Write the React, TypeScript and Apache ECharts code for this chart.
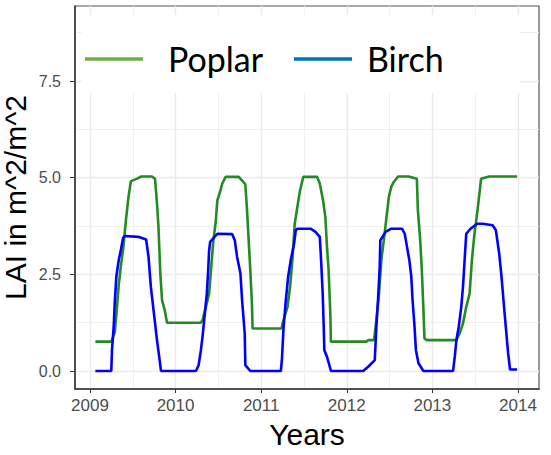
import React, { useEffect, useRef } from "react";
import * as echarts from "echarts";

const yearTicks = [2009, 2010, 2011, 2012, 2013, 2014];
const yearMinor = [2009.5, 2010.5, 2011.5, 2012.5, 2013.5];
const laiTicks = [0, 2.5, 5, 7.5];
const laiMinor = [1.25, 3.75, 6.25, 8.75];
const seriesNames = ["Poplar", "Birch"];

const poplarX = [
  2009.063, 2009.249, 2009.29, 2009.31, 2009.335, 2009.36, 2009.39, 2009.42, 2009.45, 2009.478, 2009.545, 2009.6, 2009.723, 2009.76, 2009.783, 2009.8, 2009.822, 2009.842, 2009.874, 2009.9,
  2010.296, 2010.315, 2010.354, 2010.392, 2010.423, 2010.442, 2010.469, 2010.488, 2010.519, 2010.546, 2010.585, 2010.738, 2010.815, 2010.835, 2010.854, 2010.873, 2010.892, 2010.9,
  2011.238, 2011.25, 2011.308, 2011.338, 2011.365, 2011.392, 2011.423, 2011.454, 2011.492, 2011.654, 2011.685, 2011.723, 2011.75, 2011.769, 2011.788, 2011.808, 2011.815,
  2012.231, 2012.25, 2012.319, 2012.346, 2012.377, 2012.404, 2012.442, 2012.469, 2012.492, 2012.519, 2012.55, 2012.6, 2012.723, 2012.819, 2012.831, 2012.858, 2012.877, 2012.896, 2012.908, 2012.935,
  2013.281, 2013.319, 2013.358, 2013.396, 2013.435, 2013.462, 2013.492, 2013.523, 2013.55, 2013.569, 2013.665, 2013.99,
];
const poplarY = [
  0.76, 0.76, 1.0, 1.5, 2.2, 2.7, 3.2, 3.9, 4.5, 4.91, 4.97, 5.03, 5.03, 4.97, 4.33, 3.73, 2.52, 1.83, 1.57, 1.25,
  1.25, 1.32, 1.66, 2.0, 2.87, 3.38, 3.86, 4.41, 4.63, 4.85, 5.02, 5.02, 4.83, 4.16, 3.38, 2.61, 1.75, 1.1,
  1.1, 1.23, 1.66, 2.18, 2.87, 3.81, 4.24, 4.67, 5.02, 5.02, 4.85, 4.41, 3.98, 3.21, 2.61, 1.49, 0.76,
  0.76, 0.8, 0.8, 1.32, 2.0, 2.87, 3.55, 4.07, 4.5, 4.76, 4.89, 5.03, 5.03, 4.97, 4.16, 3.38, 2.61, 1.57, 0.84, 0.8,
  0.8, 0.97, 1.23, 1.66, 2.0, 2.87, 3.55, 4.07, 4.59, 4.97, 5.03, 5.03,
];

const birchX = [
  2009.063, 2009.249, 2009.257, 2009.277, 2009.289, 2009.308, 2009.336, 2009.36, 2009.387, 2009.407, 2009.565, 2009.656, 2009.684, 2009.711, 2009.743, 2009.783, 2009.814, 2009.83,
  2010.238, 2010.269, 2010.296, 2010.315, 2010.342, 2010.365, 2010.381, 2010.392, 2010.404, 2010.488, 2010.662, 2010.692, 2010.719, 2010.758, 2010.777, 2010.808, 2010.815, 2010.873,
  2011.23, 2011.242, 2011.262, 2011.288, 2011.315, 2011.346, 2011.385, 2011.404, 2011.423, 2011.577, 2011.635, 2011.685, 2011.7, 2011.719, 2011.731, 2011.738, 2011.769, 2011.815,
  2012.192, 2012.25, 2012.327, 2012.346, 2012.365, 2012.385, 2012.392, 2012.454, 2012.519, 2012.646, 2012.677, 2012.704, 2012.731, 2012.754, 2012.769, 2012.792, 2012.808, 2012.838, 2012.896,
  2013.242, 2013.262, 2013.281, 2013.308, 2013.338, 2013.358, 2013.377, 2013.396, 2013.446, 2013.523, 2013.588, 2013.704, 2013.742, 2013.781, 2013.808, 2013.831, 2013.858, 2013.885, 2013.908, 2013.99,
];
const birchY = [
  0, 0, 0.54, 1.14, 1.75, 2.44, 2.87, 3.12, 3.45, 3.49, 3.47, 3.4, 2.95, 2.18, 1.57, 0.8, 0.28, 0,
  0, 0.15, 0.54, 0.89, 1.49, 2.0, 2.61, 3.12, 3.34, 3.55, 3.54, 3.38, 2.95, 2.52, 1.83, 0.97, 0.15, 0,
  0, 0.28, 1.14, 1.83, 2.44, 2.87, 3.3, 3.64, 3.68, 3.68, 3.6, 3.47, 2.87, 2.0, 1.14, 0.54, 0.37, 0,
  0, 0.11, 0.28, 1.14, 1.83, 2.69, 3.38, 3.6, 3.68, 3.68, 3.55, 3.21, 2.87, 2.44, 1.83, 1.14, 0.54, 0.2, 0,
  0, 0.37, 0.8, 1.14, 1.66, 2.18, 2.87, 3.55, 3.68, 3.81, 3.81, 3.77, 3.64, 3.04, 2.44, 1.83, 1.14, 0.46, 0.04, 0.04,
];

const X_MIN = 2008.825;
const X_MAX = 2014.246;
const Y_MIN = -0.465;
const Y_MAX = 9.44;

export default function App() {
  const ref = useRef<HTMLDivElement>(null);
  useEffect(() => {
    if (!ref.current) return;
    const chart = echarts.init(ref.current, null, { renderer: "svg" });
    const axisFont = "Liberation Sans, Arial, sans-serif";
    const grid = "#EBEBEB";
    chart.setOption({
      animation: false,
      backgroundColor: "#ffffff",
      grid: {
        left: 75,
        right: 12,
        top: 6,
        bottom: 66,
        containLabel: false,
        outerBoundsMode: "none",
        show: true,
        borderColor: "#555555",
        borderWidth: 1.2,
        backgroundColor: "transparent",
      },
      xAxis: [
        {
          type: "value",
          min: X_MIN,
          max: X_MAX,
          name: "Years",
          nameLocation: "middle",
          nameGap: 30,
          nameMoveOverlap: false,
          nameTextStyle: { fontSize: 30, color: "#000", fontFamily: axisFont },
          axisLine: { show: true, onZero: false, lineStyle: { color: "#333", width: 1.5 } },
          axisTick: { show: true, length: 4, customValues: yearTicks, lineStyle: { color: "#333" } },
          axisLabel: {
            customValues: yearTicks,
            margin: 8,
            fontSize: 17,
            color: "#4D4D4D",
            fontFamily: axisFont,
            formatter: (v: number) => String(Math.round(v)),
          },
          splitLine: { show: true, lineStyle: { color: grid, width: 1.4 } },
        },
        {
          type: "value",
          min: X_MIN,
          max: X_MAX,
          position: "bottom",
          axisLine: { show: false },
          axisTick: { show: false, customValues: yearMinor },
          axisLabel: { show: false, customValues: yearMinor },
          splitLine: { show: true, lineStyle: { color: "#F0F0F0", width: 1 } },
        },
      ],
      yAxis: [
        {
          type: "value",
          min: Y_MIN,
          max: Y_MAX,
          name: "LAI in m^2/m^2",
          nameLocation: "middle",
          nameGap: 45,
          nameMoveOverlap: false,
          nameTextStyle: { fontSize: 30, color: "#000", fontFamily: axisFont },
          axisLine: { show: true, onZero: false, lineStyle: { color: "#333", width: 1.5 } },
          axisTick: { show: true, length: 5, customValues: laiTicks, lineStyle: { color: "#333" } },
          axisLabel: {
            customValues: laiTicks,
            margin: 14,
            fontSize: 16,
            color: "#4D4D4D",
            fontFamily: axisFont,
            formatter: (v: number) => v.toFixed(1),
          },
          splitLine: { show: true, lineStyle: { color: grid, width: 1.4 } },
        },
        {
          type: "value",
          min: Y_MIN,
          max: Y_MAX,
          position: "left",
          axisLine: { show: false },
          axisTick: { show: false, customValues: laiMinor },
          axisLabel: { show: false, customValues: laiMinor },
          splitLine: { show: true, lineStyle: { color: "#F0F0F0", width: 1 } },
        },
      ],
      series: [
        {
          name: seriesNames[0],
          type: "line",
          xAxisIndex: 0,
          yAxisIndex: 0,
          showSymbol: false,
          symbol: "none",
          lineStyle: { color: "#228B22", width: 2.6 },
          itemStyle: { color: "#228B22" },
          data: poplarX.map((x, i) => [x, poplarY[i]]),
          z: 3,
        },
        {
          name: seriesNames[1],
          type: "line",
          xAxisIndex: 0,
          yAxisIndex: 0,
          showSymbol: false,
          symbol: "none",
          lineStyle: { color: "#0000FF", width: 2.6 },
          itemStyle: { color: "#0000FF" },
          data: birchX.map((x, i) => [x, birchY[i]]),
          z: 4,
        },
      ],
      graphic: [
        {
          type: "rect",
          z: 10,
          shape: { x: 82, y: 15, width: 438, height: 78 },
          style: { fill: "#ffffff" },
        },
        {
          type: "line",
          z: 11,
          shape: { x1: 85, y1: 59, x2: 143, y2: 59 },
          style: { stroke: "#70AD47", lineWidth: 3.5 },
        },
        {
          type: "text",
          z: 11,
          x: 168,
          y: 58,
          style: {
            text: seriesNames[0],
            fontSize: 34,
            fontFamily: "Lato, 'Open Sans', sans-serif",
            fill: "#000",
            verticalAlign: "middle",
            align: "left",
          },
        },
        {
          type: "line",
          z: 11,
          shape: { x1: 294, y1: 59, x2: 352, y2: 59 },
          style: { stroke: "#0070C0", lineWidth: 3.5 },
        },
        {
          type: "text",
          z: 11,
          x: 367,
          y: 58,
          style: {
            text: seriesNames[1],
            fontSize: 34,
            fontFamily: "Lato, 'Open Sans', sans-serif",
            fill: "#000",
            verticalAlign: "middle",
            align: "left",
          },
        },
      ],
    });
    return () => chart.dispose();
  }, []);
  return (
    <div
      ref={ref}
      style={{ position: "fixed", left: 0, top: 0, width: 551, height: 455, background: "#fff" }}
    />
  );
}
